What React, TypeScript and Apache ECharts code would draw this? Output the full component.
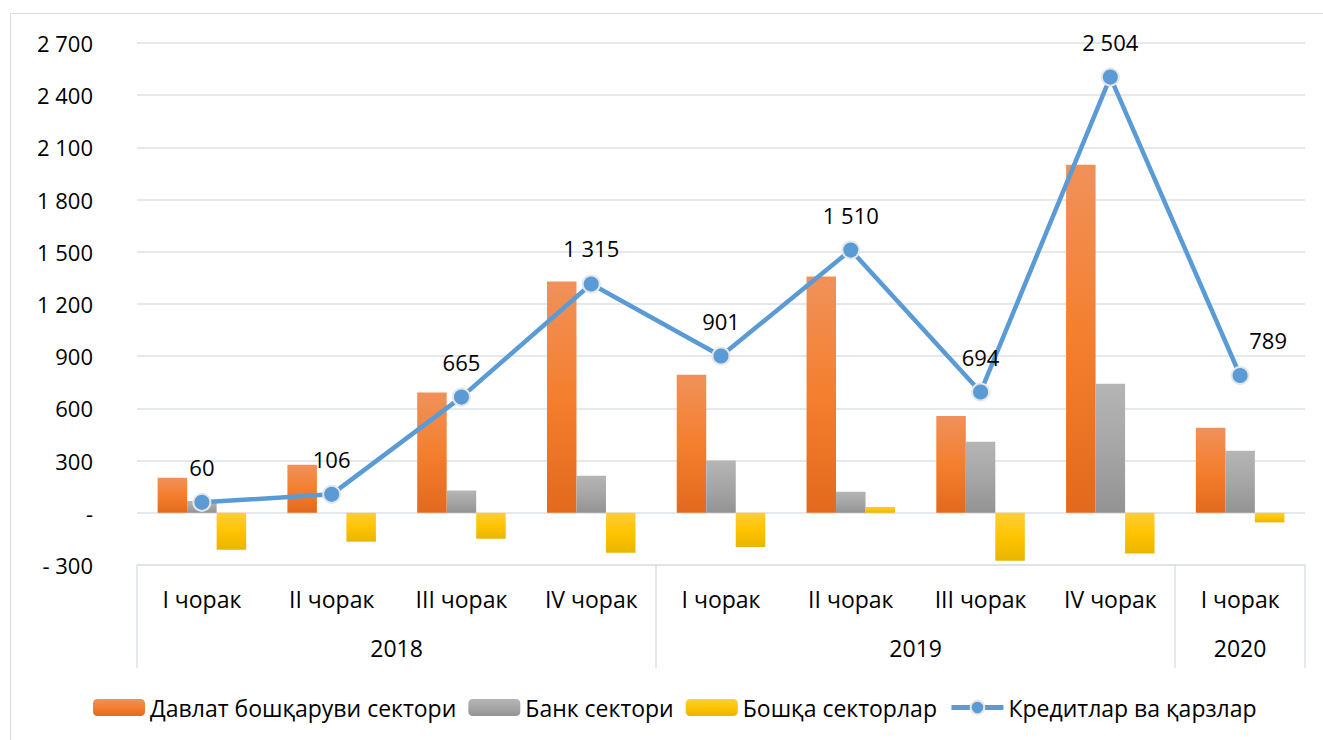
import React, { useEffect, useRef } from "react";
import * as echarts from "echarts";

const quarters = ["I чорак", "II чорак", "III чорак", "IV чорак", "I чорак", "II чорак", "III чорак", "IV чорак", "I чорак"];
const years = ["2018", "2019", "2020"];
const yearSpans = [4, 4, 1];

const govSector = [202, 276, 691, 1329, 793, 1358, 557, 2000, 489];
const bankSector = [68, 0, 128, 213, 300, 121, 408, 742, 357];
const otherSectors = [-213, -166, -149, -230, -196, 34, -276, -234, -55];
const credits = [60, 106, 665, 1315, 901, 1510, 694, 2504, 789];

const seriesNames = ["Давлат бошқаруви сектори", "Банк сектори", "Бошқа секторлар", "Кредитлар ва қарзлар"];

const FONT = "Open Sans";

function fmt(v: number): string {
  if (v === 0) return "-";
  const s = Math.abs(v).toString().replace(/\B(?=(\d{3})+(?!\d))/g, " ");
  return v < 0 ? "- " + s : s;
}

function grad(top: string, mid: string, bottom: string) {
  return new echarts.graphic.LinearGradient(0, 0, 0, 1, [
    { offset: 0, color: top },
    { offset: 0.5, color: mid },
    { offset: 1, color: bottom },
  ]);
}

// group boundaries and centers derived from yearSpans
const groupStarts: number[] = [];
const groupCenters: number[] = [];
{
  let acc = 0;
  yearSpans.forEach((s) => {
    groupStarts.push(acc);
    groupCenters.push(acc + s / 2);
    acc += s;
  });
}

export default function App() {
  const ref = useRef<HTMLDivElement>(null);
  useEffect(() => {
    document.body.style.margin = "0";
    const chart = echarts.init(ref.current!, undefined, { renderer: "svg" });
    const gridColor = "#DDE1E7";
    chart.setOption({
      animation: false,
      textStyle: { fontFamily: FONT },
      grid: { left: 137, right: 18, top: 43, bottom: 175 },
      legend: {
        left: 88,
        top: 691,
        itemWidth: 52,
        itemHeight: 17,
        itemGap: 12,
        textStyle: { fontSize: 23, color: "#000", fontFamily: FONT },
        data: [
          seriesNames[0],
          seriesNames[1],
          seriesNames[2],
          { name: seriesNames[3], lineStyle: { width: 5 } },
        ],
      },
      xAxis: [
        {
          type: "category",
          data: quarters,
          position: "bottom",
          axisLine: { show: true, onZero: false, lineStyle: { color: gridColor, width: 1.5 } },
          axisTick: {
            show: true,
            length: 103,
            interval: (i: number) => groupStarts.includes(i),
            lineStyle: { color: gridColor, width: 1.5 },
          },
          axisLabel: { interval: 0, margin: 22, fontSize: 23, color: "#000", fontFamily: FONT },
        },
        {
          type: "value",
          position: "bottom",
          min: 0,
          max: quarters.length,
          interval: 0.5,
          axisLine: { show: false, onZero: false },
          axisTick: { show: false },
          splitLine: { show: false },
          axisLabel: {
            margin: 71,
            fontSize: 23,
            color: "#000",
            fontFamily: FONT,
            formatter: (v: number) => {
              const idx = groupCenters.findIndex((c) => Math.abs(c - v) < 1e-6);
              return idx >= 0 ? years[idx] : "";
            },
          },
        },
      ],
      yAxis: {
        type: "value",
        min: -300,
        max: 2700,
        interval: 300,
        axisLine: { show: false },
        axisTick: { show: false },
        splitLine: { lineStyle: { color: gridColor, width: 1.5 } },
        axisLabel: { margin: 44, fontSize: 22, color: "#000", fontFamily: FONT, formatter: fmt },
      },
      series: [
        {
          name: seriesNames[0],
          type: "bar",
          data: govSector,
          barWidth: 29.5,
          barGap: "0%",
          itemStyle: { color: grad("#F0915A", "#F47F2E", "#E2691D") },
        },
        {
          name: seriesNames[1],
          type: "bar",
          data: bankSector,
          barWidth: 29.5,
          barGap: "0%",
          itemStyle: { color: grad("#B5B5B5", "#A6A6A6", "#939393") },
        },
        {
          name: seriesNames[2],
          type: "bar",
          data: otherSectors,
          barWidth: 29.5,
          barGap: "0%",
          itemStyle: { color: grad("#FFCD3C", "#FFC400", "#E8B500") },
        },
        {
          name: seriesNames[3],
          type: "line",
          data: credits.map((v, i) =>
            i === credits.length - 1 ? { value: v, label: { offset: [28, 0] } } : v
          ),
          z: 5,
          symbol: "circle",
          symbolSize: 17,
          lineStyle: { color: "#5B9BD5", width: 4.5 },
          itemStyle: { color: "#5B9BD5", borderColor: "#E6E6E6", borderWidth: 2 },
          label: {
            show: true,
            position: "top",
            distance: 15,
            fontSize: 22,
            color: "#000",
            fontFamily: FONT,
            formatter: (p: any) => fmt(p.value),
          },
        },
      ],
    });
    return () => chart.dispose();
  }, []);
  return (
    <div style={{ position: "relative", width: 1323, height: 740, overflow: "hidden", background: "#fff" }}>
      <div
        style={{
          position: "absolute",
          left: 10,
          top: 13,
          width: 1340,
          height: 760,
          border: "1.5px solid #D9DDE3",
          boxSizing: "border-box",
        }}
      />
      <div ref={ref} style={{ position: "absolute", left: 0, top: 0, width: 1323, height: 740 }} />
    </div>
  );
}
